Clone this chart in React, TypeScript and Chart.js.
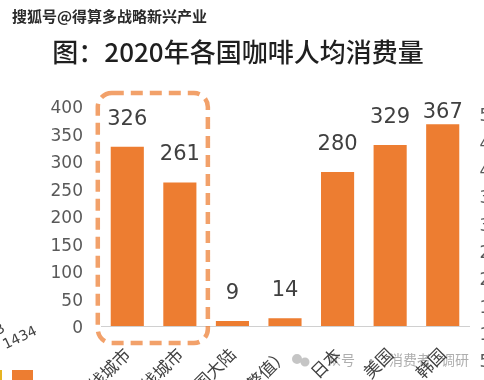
import React, { useEffect, useRef } from "react";
import { Chart, registerables } from "chart.js";

Chart.register(...registerables);

const categories = ["一线城市", "二线城市", "中国大陆", "中国（调整值）", "日本", "美国", "韩国"];
const consumption = [326, 261, 9, 14, 280, 329, 367];
const yMin = 0;
const yMax = 400;
const yStep = 50;
const titleText = "图：2020年各国咖啡人均消费量";
const sourceMark = "搜狐号@得算多战略新兴产业";
const rightAxisFragments = ["500", "450", "400", "350", "300", "250", "200", "150", "100", "50"];
const leftFragments = ["3", "1434"];
const highlighted = [0, 1];

const BAR = "#ED7D31";
const NUM_FONT = '"DejaVu Sans", "Liberation Sans", sans-serif';
const CJK_FONT = '"Noto Sans CJK SC", "Noto Sans", sans-serif';

const overlay = {
  id: "overlay",
  beforeDraw(chart: any) {
    const ctx = chart.ctx;
    ctx.save();
    ctx.fillStyle = "#ffffff";
    ctx.fillRect(0, 0, chart.width, chart.height);
    // bottom watermark (under labels)
    ctx.fillStyle = "rgba(150,150,150,0.55)";
    ctx.beginPath();
    ctx.arc(297, 359, 5, 0, Math.PI * 2);
    ctx.arc(305, 362, 4.5, 0, Math.PI * 2);
    ctx.fill();
    ctx.fillStyle = "rgba(120,120,120,0.6)";
    ctx.font = `14px ${CJK_FONT}`;
    ctx.textBaseline = "middle";
    ctx.textAlign = "left";
    ctx.fillText("众号", 327, 360);
    ctx.fillText("·", 364, 360);
    ctx.fillText("消费者", 389, 360);
    ctx.fillText("调研", 441, 360);
    ctx.restore();
  },
  afterDatasetsDraw(chart: any) {
    const ctx = chart.ctx;
    const meta = chart.getDatasetMeta(0);
    ctx.save();
    ctx.fillStyle = "#404040";
    ctx.font = `21px ${NUM_FONT}`;
    ctx.textAlign = "center";
    ctx.textBaseline = "bottom";
    meta.data.forEach((bar: any, i: number) => {
      const y = Math.max(bar.y - 17, chart.chartArea.top + 17);
      ctx.fillText(String(consumption[i]), bar.x, y);
    });
    ctx.restore();
  },
  afterDraw(chart: any) {
    const ctx = chart.ctx;
    const xs = chart.scales.x;
    const ys = chart.scales.y;
    ctx.save();
    // title
    ctx.fillStyle = "#1f1f1f";
    ctx.font = `500 26px ${CJK_FONT}`;
    ctx.textAlign = "center";
    ctx.textBaseline = "middle";
    ctx.fillText(titleText, 238, 52);
    // top source mark
    ctx.font = `bold 15px ${CJK_FONT}`;
    ctx.textAlign = "left";
    ctx.lineWidth = 3;
    ctx.strokeStyle = "#ffffff";
    ctx.strokeText(sourceMark, 12, 16);
    ctx.fillStyle = "#2a2a2a";
    ctx.fillText(sourceMark, 12, 16);
    // dashed highlight box
    const l = xs.getPixelForValue(highlighted[0]) - 29.5;
    const r = xs.getPixelForValue(highlighted[highlighted.length - 1]) + 28;
    const t = ys.getPixelForValue(yMax) - 13;
    const b = ys.getPixelForValue(yMin) + 17;
    ctx.strokeStyle = "rgba(237,125,49,0.72)";
    ctx.lineWidth = 4.5;
    ctx.setLineDash([12, 7]);
    ctx.beginPath();
    ctx.roundRect(l, t, r - l, b - t, 14);
    ctx.stroke();
    ctx.setLineDash([]);
    // fragments of neighbouring charts
    ctx.fillStyle = "#595959";
    ctx.font = `17px ${NUM_FONT}`;
    ctx.textAlign = "left";
    ctx.textBaseline = "middle";
    rightAxisFragments.forEach((s, i) => {
      ctx.fillText(s, 479.5, 117 + i * 27.3);
    });
    ctx.fillStyle = "#404040";
    ctx.font = `14px ${NUM_FONT}`;
    ctx.save();
    ctx.translate(0, 330);
    ctx.rotate(-Math.PI / 6);
    ctx.fillText(leftFragments[0], -4, 0);
    ctx.restore();
    ctx.save();
    ctx.translate(4, 346);
    ctx.rotate(-Math.PI / 7);
    ctx.fillText(leftFragments[1], 0, 0);
    ctx.restore();
    ctx.fillStyle = BAR;
    ctx.fillRect(12, 370, 21, 12);
    ctx.fillStyle = "#E6B422";
    ctx.fillRect(0, 370, 2, 12);
    ctx.restore();
  },
};

export default function App() {
  const ref = useRef<HTMLCanvasElement>(null);
  useEffect(() => {
    if (!ref.current) return;
    const chart = new Chart(ref.current, {
      type: "bar",
      data: {
        labels: categories,
        datasets: [
          {
            data: consumption,
            backgroundColor: BAR,
            borderWidth: 0,
            categoryPercentage: 0.63,
            barPercentage: 1,
          },
        ],
      },
      options: {
        responsive: false,
        animation: false,
        layout: { padding: { top: 106, right: 15, left: 0, bottom: 0 } },
        plugins: {
          legend: { display: false },
          tooltip: { enabled: false },
          title: { display: false },
        },
        scales: {
          x: {
            grid: { display: false },
            border: { display: true, color: "#d0d0d0", width: 1 },
            ticks: {
              autoSkip: false,
              minRotation: 45,
              maxRotation: 45,
              padding: 10,
              color: "#404040",
              font: { family: CJK_FONT, size: 17 },
            },
            afterFit: (s: any) => {
              s.height = 54;
            },
          },
          y: {
            min: yMin,
            max: yMax,
            grid: { display: false, drawTicks: false },
            border: { display: false },
            ticks: {
              stepSize: yStep,
              padding: 18,
              labelOffset: 3,
              color: "#595959",
              font: { family: NUM_FONT, size: 17 },
            },
            afterFit: (s: any) => {
              s.width = 101;
            },
          },
        },
      },
      plugins: [overlay],
    });
    return () => chart.destroy();
  }, []);
  return (
    <div style={{ position: "fixed", left: 0, top: 0, width: 484, height: 380 }}>
      <canvas ref={ref} width={484} height={380} style={{ display: "block" }} />
    </div>
  );
}
